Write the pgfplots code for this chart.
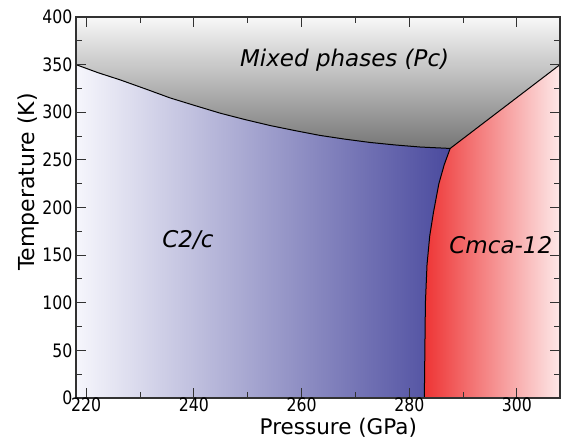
\documentclass[border=0pt]{standalone}
\usepackage{pgfplots}
\pgfplotsset{compat=1.18}
\usetikzlibrary{calc}
\usepackage{fontspec}
\setmainfont{DejaVu Sans}[FakeStretch=0.85]
\newfontfamily\plainfont{DejaVu Sans}
\definecolor{blueL}{RGB}{246,246,252}
\definecolor{blueR}{RGB}{74,74,158}
\definecolor{redL}{RGB}{238,52,52}
\definecolor{redR}{RGB}{253,232,232}
\definecolor{grayT}{RGB}{248,248,248}
\definecolor{grayB}{RGB}{118,118,118}
\definecolor{axc}{RGB}{50,50,50}
\begin{document}
\begin{tikzpicture}
\begin{axis}[
  name=ax,
  scale only axis,
  width=484pt, height=381pt,
  xmin=218.1, xmax=308, ymin=0, ymax=400,
  xtick={220,240,260,280,300},
  ytick={0,50,100,150,200,250,300,350,400},
  minor x tick num=1, minor y tick num=1,
  major tick length=10pt, minor tick length=6pt,
  tick align=inside,
  axis on top,
  axis line style={axc, line width=1.3pt},
  every tick/.style={axc, line width=1pt},
  /pgf/number format/assume math mode=true,
  /pgf/number format/1000 sep={},
  ticklabel style={font=\fontsize{18.5}{18.5}\selectfont, text=black},
  xticklabel style={inner sep=0.5pt, yshift=0.5pt},
  xlabel={Pressure (GPa)},
  ylabel={Temperature (K)},
  every axis x label/.style={at={(axis description cs:0.542,-0.0945)}, anchor=base, inner sep=0pt, font=\plainfont\fontsize{21.5}{21.5}\selectfont},
  every axis y label/.style={at={(axis description cs:-0.099,0.567)}, anchor=center, rotate=90, font=\plainfont\fontsize{22}{22}\selectfont},
]
% C2/c region
\addplot[draw=none, left color=blueL, right color=blueR] coordinates {
 (218.1,0) (218.1,350) (222.2,341.5) (226.3,334) (231,324.5) (235.6,315) (240.2,307) (244.9,299)
 (249.5,292.3) (254.2,286) (258.8,280.7) (263.4,275.7) (268,271.8) (272.7,268.3)
 (277.3,265.7) (282.0,263.5) (287.6,262)
 (286.5,245) (285.5,225) (284.5,195) (283.8,170) (283.3,140) (283.0,100) (282.9,50) (282.8,0)
} -- cycle;
% Mixed phases region
\addplot[draw=none, top color=grayT, bottom color=grayB] coordinates {
 (218.1,400) (218.1,350) (222.2,341.5) (226.3,334) (231,324.5) (235.6,315) (240.2,307) (244.9,299)
 (249.5,292.3) (254.2,286) (258.8,280.7) (263.4,275.7) (268,271.8) (272.7,268.3)
 (277.3,265.7) (282.0,263.5) (287.6,262) (308,350) (308,400)
} -- cycle;
% Cmca-12 region
\addplot[draw=none, left color=redL, right color=redR] coordinates {
 (282.8,0) (282.9,50) (283.0,100) (283.3,140) (283.8,170) (284.5,195) (285.5,225) (286.5,245)
 (287.6,262) (308,350) (308,0)
} -- cycle;
% boundaries
\addplot[black, line width=1pt] coordinates {
 (218.1,350) (222.2,341.5) (226.3,334) (231,324.5) (235.6,315) (240.2,307) (244.9,299)
 (249.5,292.3) (254.2,286) (258.8,280.7) (263.4,275.7) (268,271.8) (272.7,268.3)
 (277.3,265.7) (282.0,263.5) (287.6,262) (308,350)
};
\addplot[black, line width=1pt] coordinates {
 (282.8,0) (282.9,50) (283.0,100) (283.3,140) (283.8,170) (284.5,195) (285.5,225) (286.5,245) (287.6,262)
};
\node[font=\plainfont\fontsize{23}{23}\selectfont\itshape] at (axis cs:268,355) {Mixed phases (Pc)};
\node[font=\plainfont\fontsize{23}{23}\selectfont\itshape] at (axis cs:238.9,166) {C2/c};
\node[font=\plainfont\fontsize{23}{23}\selectfont\itshape] at (axis cs:297,161) {Cmca-12};
\end{axis}
\pgfresetboundingbox
\path[use as bounding box] ($(ax.south west)+(-76pt,-42pt)$) rectangle ($(ax.north east)+(2pt,17pt)$);
\end{tikzpicture}
\end{document}
